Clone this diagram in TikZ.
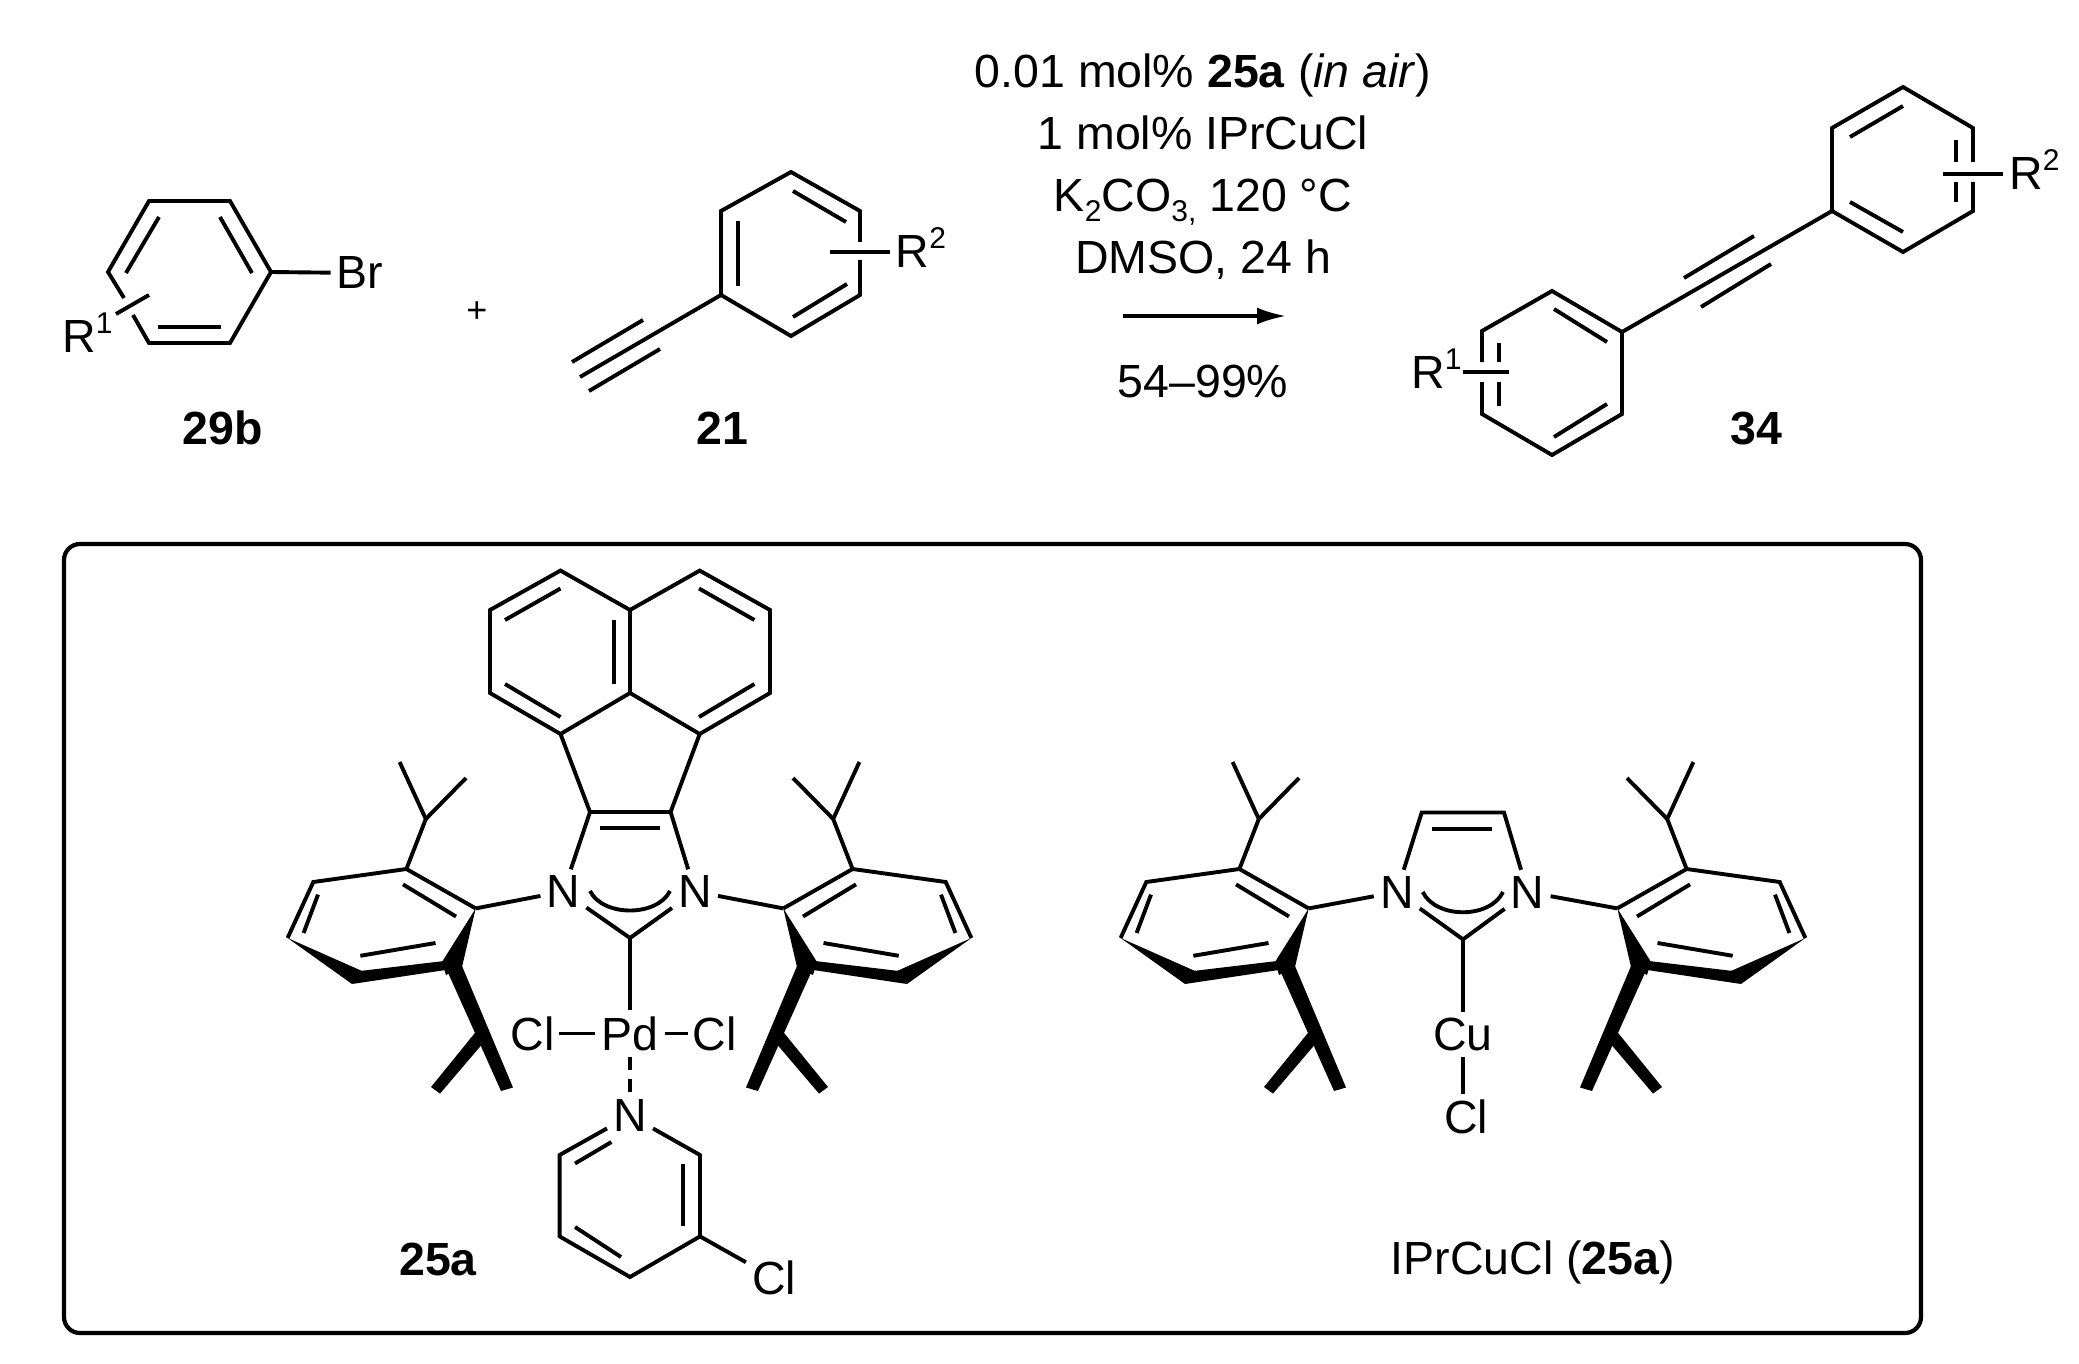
\documentclass[tikz,border=0pt]{standalone}
\usepackage{fontspec}
\setmainfont{Liberation Sans}
\usetikzlibrary{arrows.meta}
\newcommand\supnum[1]{\smash{\rlap{\raisebox{19pt}{\fontsize{30}{30}\selectfont #1}}}}
\newcommand\subnum[1]{\raisebox{-10pt}{\fontsize{30}{30}\selectfont #1}}
\tikzset{
  bond/.style={line width=3.9pt,line join=miter,line cap=butt},
  wedgefill/.style={fill=black,draw=none},
  atom/.style={inner sep=6pt,font=\fontsize{46.5}{50}\selectfont},
  txt/.style={inner sep=0pt,anchor=base,font=\fontsize{46.5}{50}\selectfont},
  boxframe/.style={line width=4.2pt,rounded corners=16pt},
  rxnarrow/.style={line width=3.4pt,-{Latex[length=29pt,width=17pt]}},
  dashbond/.style={line width=3.4pt,dash pattern=on 13pt off 9pt}
}
% one 2,6-diisopropylphenyl group, drawn with its ipso carbon at (475.7,908.4)
\newcommand\arylgroup{%
  \coordinate (ipso) at (475.7,908.4);
  \coordinate (o1) at (406.4,869);
  \coordinate (m1) at (313.3,882);
  \coordinate (p) at (287.6,938);
  \coordinate (ch) at (425.8,819);
  \coordinate (me1) at (399.6,762);
  \coordinate (me2) at (466,778);
  \draw[bond] (ipso) -- (o1) -- (m1) -- (p);
  \draw[bond] (o1) -- (ch) -- (me1);
  \draw[bond] (ch) -- (me2);
  \draw[bond] (403,884.4) -- (456,916.5);
  \draw[bond] (318,894.6) -- (303.6,933);
  \draw[bond] (360.3,955.8) -- (435.5,943);
  \fill[wedgefill] (p) -- (352,984) -- (362,971) -- cycle;
  \fill[wedgefill] (360,971) -- (444,961) -- (459,968) -- (352,984) -- cycle;
  \fill[wedgefill] (ipso) -- (442,962) -- (446,975) -- (462,967) -- cycle;
  \fill[wedgefill] (445,966) -- (462,966) -- (513,1087.5) -- (501,1091) -- cycle;
  \fill[wedgefill] (431,1087) -- (440,1093.6) -- (484,1042) -- (475.7,1032) -- cycle;
}
\begin{document}
\begin{tikzpicture}[x=1pt,y=-1pt]
\useasboundingbox (0,0) rectangle (2079,1364);
\fill[white] (0,0) rectangle (2079,1364);

% ---------- 29b
\coordinate (a1) at (149,201);
\coordinate (a2) at (230,201);
\coordinate (a3) at (271,272);
\coordinate (a4) at (230,343);
\coordinate (a5) at (149,343);
\coordinate (a6) at (108,272);
\coordinate (a6g) at (124,298);
\coordinate (a5g) at (133,315);
\coordinate (r1as) at (116,314);
\coordinate (r1ae) at (149,295);
\node[atom] (br) at (360,273) {Br};
\node[atom,inner sep=0pt] (r1a) at (79,337) {R\supnum{1}};
\node[txt] (l29b) at (223,444) {\bfseries 29b};
\draw[bond] (a6g) -- (a6) -- (a1) -- (a2) -- (a3) -- (a4) -- (a5) -- (a5g);
\draw[bond] (a3) -- (br);
\draw[bond] (r1as) -- (r1ae);
\draw[bond] (159,217) -- (126,273);
\draw[bond] (220,217) -- (252,273);
\draw[bond] (158,327) -- (221,327);

\node[inner sep=0pt,font=\fontsize{36}{38}\selectfont] (plus) at (477,312) {+};

% ---------- 21
\coordinate (b1) at (791,172);
\coordinate (b2) at (860,211);
\coordinate (b2g) at (860,242);
\coordinate (b3g) at (860,260);
\coordinate (b3) at (860,295);
\coordinate (b4) at (791,336);
\coordinate (b5) at (721,295);
\coordinate (b6) at (721,211);
\coordinate (bt) at (580,377);
\coordinate (r2bs) at (830,252);
\node[atom] (r2b) at (912.5,252) {R\supnum{2}};
\node[txt] (l21) at (722,444) {\bfseries 21};
\draw[bond] (b2g) -- (b2) -- (b1) -- (b6) -- (b5) -- (b4) -- (b3) -- (b3g);
\draw[bond] (b5) -- (bt);
\draw[bond] (r2bs) -- (r2b);
\draw[bond] (793,191) -- (846,222);
\draw[bond] (738,221) -- (738,286);
\draw[bond] (793,317) -- (847,284);
\draw[bond] (643,320) -- (572,362);
\draw[bond] (660,349) -- (589,391);

% ---------- conditions
\node[txt] (c1) at (1203,88) {0.01 mol\% \textbf{25a} (\textit{in air})};
\node[txt] (c2) at (1203,150) {1 mol\% IPrCuCl};
\node[txt] (c3) at (1203,212) {K\subnum{2}CO\subnum{3,} 120 °C};
\node[txt] (c4) at (1203,273) {DMSO, 24 h};
\coordinate (arrS) at (1123,316);
\coordinate (arrE) at (1286,316);
\draw[rxnarrow] (arrS) -- (arrE);
\node[txt] (c5) at (1203,397) {54–99\%};

% ---------- 34
\coordinate (d1) at (1903,87);
\coordinate (d2) at (1973,128);
\coordinate (d2g) at (1973,162);
\coordinate (d3g) at (1973,182);
\coordinate (d3) at (1973,211);
\coordinate (d4) at (1903,252);
\coordinate (d5) at (1832,211);
\coordinate (d6) at (1832,128);
\coordinate (e1) at (1552,291);
\coordinate (e2) at (1622,332);
\coordinate (e3) at (1622,414);
\coordinate (e4) at (1552,455);
\coordinate (e5) at (1482,414);
\coordinate (e5g) at (1482,382);
\coordinate (e6g) at (1482,362);
\coordinate (e6) at (1482,331);
\coordinate (r2ds) at (1943,174);
\coordinate (r1es) at (1463,372);
\coordinate (r1ee) at (1509,372);
\node[atom] (r2d) at (2026,174) {R\supnum{2}};
\node[atom,inner sep=0pt] (r1e) at (1428,373) {R\supnum{1}};
\node[txt] (l34) at (1756,444) {\bfseries 34};
\draw[bond] (d2g) -- (d2) -- (d1) -- (d6) -- (d5) -- (d4) -- (d3) -- (d3g);
\draw[bond] (d5) -- (e2);
\draw[bond] (e6g) -- (e6) -- (e1) -- (e2) -- (e3) -- (e4) -- (e5) -- (e5g);
\draw[bond] (r2ds) -- (r2d);
\draw[bond] (r1es) -- (r1ee);
\draw[bond] (1903,106) -- (1850,137);
\draw[bond] (1956,140) -- (1956,162);
\draw[bond] (1956,182) -- (1956,202);
\draw[bond] (1850,202) -- (1903,232);
\draw[bond] (1754,236) -- (1684,278);
\draw[bond] (1771,264) -- (1701,307);
\draw[bond] (1554,309) -- (1607,342);
\draw[bond] (1554,437) -- (1607,404);
\draw[bond] (1499,343) -- (1499,362);
\draw[bond] (1499,382) -- (1499,406);

% ---------- frame
\coordinate (fa) at (64,544);
\coordinate (fb) at (1921,1333);
\draw[boxframe] (fa) rectangle (fb);

% ---------- 25a
\coordinate (f1) at (560.5,570.6);
\coordinate (f2) at (630,610);
\coordinate (f3) at (699.7,570.6);
\coordinate (f4) at (770,610);
\coordinate (f5) at (770,693);
\coordinate (f6) at (699.7,734);
\coordinate (f7) at (630,693);
\coordinate (f8) at (560.5,734);
\coordinate (f9) at (490,693);
\coordinate (f10) at (490,610);
\coordinate (g1) at (590,812);
\coordinate (g2) at (670.6,812);
\coordinate (gc) at (630,938);
\coordinate (py2) at (559.6,1155);
\coordinate (py3) at (559.6,1236.4);
\coordinate (py4) at (630,1277);
\coordinate (py5) at (700,1236.4);
\coordinate (py6) at (700,1155);
\node[atom] (nl) at (563.4,891.5) {N};
\node[atom] (nr) at (695,891.5) {N};
\node[atom] (pd) at (630,1033.5) {Pd};
\node[atom,inner sep=4pt] (cll) at (532.5,1033.5) {Cl};
\node[atom,inner sep=4pt] (clr) at (714.5,1033.5) {Cl};
\node[atom] (npy) at (630,1115.5) {N};
\node[atom] (clp) at (774,1278) {Cl};
\node[txt] (l25a) at (438,1275) {\bfseries 25a};
\draw[bond] (f2) -- (f1) -- (f10) -- (f9) -- (f8) -- (f7) -- (f2) -- (f3) -- (f4) -- (f5) -- (f6) -- (f7);
\draw[bond] (f8) -- (g1) -- (g2) -- (f6);
\draw[bond] (g1) -- (nl);
\draw[bond] (g2) -- (nr);
\draw[bond] (505,620) -- (560.5,588.5);
\draw[bond] (699,588.5) -- (754.4,620);
\draw[bond] (614,620) -- (614,684);
\draw[bond] (505,684) -- (560.5,717);
\draw[bond] (699,717) -- (754.4,684);
\draw[bond] (600,828) -- (660,828);
\draw[bond] (590,891) .. controls (603,917) and (657,917) .. (670,891);
\draw[bond] (nl) -- (gc) -- (nr);
\draw[bond] (gc) -- (pd);
\draw[bond] (cll) -- (pd);
\draw[bond] (pd) -- (clr);
\draw[dashbond] (pd) -- (npy);
\draw[bond] (npy) -- (py2) -- (py3) -- (py4) -- (py5) -- (py6) -- (npy);
\draw[bond] (py5) -- (clp);
\draw[bond] (575,1163.5) -- (611.4,1142);
\draw[bond] (683,1163.5) -- (683,1226);
\draw[bond] (575,1227) -- (621,1257);
\begin{scope}[name prefix=la-]
  \arylgroup
\end{scope}
\begin{scope}[name prefix=ra-,shift={(1259,0)},xscale=-1]
  \arylgroup
\end{scope}
\draw[bond] (la-ipso) -- (nl);
\draw[bond] (ra-ipso) -- (nr);

% ---------- IPrCuCl
\coordinate (h1) at (1421.7,812.5);
\coordinate (h2) at (1504,812.5);
\coordinate (hc) at (1463,939.4);
\node[atom] (nl2) at (1396.8,892) {N};
\node[atom] (nr2) at (1527.6,892) {N};
\node[atom] (cu) at (1463,1034.5) {Cu};
\node[atom] (clc) at (1466,1117) {Cl};
\node[txt] (lipr) at (1533,1274) {IPrCuCl (\textbf{25a})};
\draw[bond] (nl2) -- (h1) -- (h2) -- (nr2);
\draw[bond] (1432.4,829) -- (1492,829);
\draw[bond] (1422.7,892) .. controls (1436,919) and (1490,919) .. (1503,892);
\draw[bond] (nl2) -- (hc) -- (nr2);
\draw[bond] (hc) -- (cu);
\draw[bond] (cu) -- (cu |- clc.north);
\begin{scope}[name prefix=lb-,shift={(833,0)}]
  \arylgroup
\end{scope}
\begin{scope}[name prefix=rb-,shift={(2093,0)},xscale=-1]
  \arylgroup
\end{scope}
\draw[bond] (lb-ipso) -- (nl2);
\draw[bond] (rb-ipso) -- (nr2);
\end{tikzpicture}
\end{document}
